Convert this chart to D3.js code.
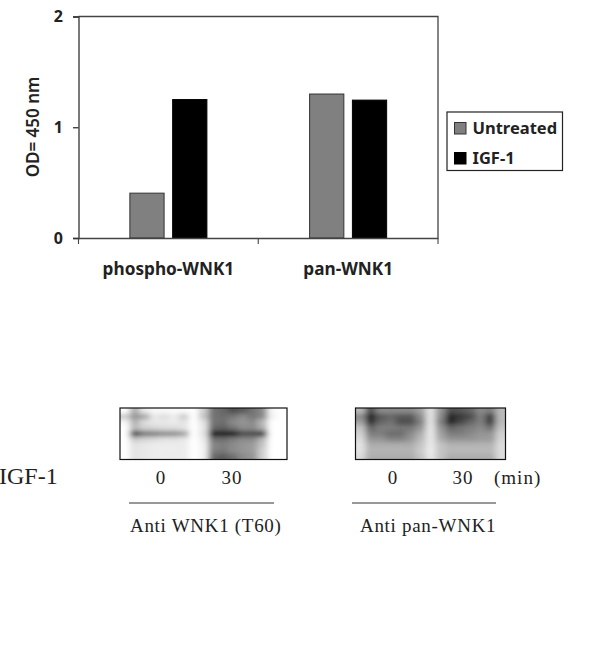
<!DOCTYPE html>
<html>
<head>
<meta charset="utf-8">
<script src="https://d3js.org/d3.v7.min.js"></script>
<style>
  html, body { margin: 0; padding: 0; background: #fff; }
  svg { display: block; }
  .chart text { font-family: "Noto Sans", sans-serif; font-weight: 700; fill: #222; }
  .blot text { font-family: "Liberation Serif", serif; fill: #222; }
</style>
</head>
<body>
<div id="my_dataviz"></div>
<script>
// chart data
const categories = ["phospho-WNK1", "pan-WNK1"];
const seriesNames = ["Untreated", "IGF-1"];
const untreated = [0.405, 1.30];
const igf1 = [1.25, 1.245];
const yTicks = [0, 1, 2];
const seriesColors = ["#808080", "#000000"];

// blot darkness, 0 = white, 100 = black (rows top to bottom)
const blotT60 = [
  [0, 35, 8, 3, 3, 2, 2, 0, 20, 60, 65, 75, 70, 60, 50, 3, 0],
  [22, 45, 38, 10, 14, 8, 22, 0, 25, 60, 62, 58, 50, 58, 50, 5, 0],
  [3, 32, 14, 10, 10, 8, 12, 0, 12, 60, 62, 50, 45, 50, 30, 0, 0],
  [0, 30, 20, 18, 15, 15, 12, 0, 10, 65, 68, 60, 50, 50, 35, 0, 0],
  [0, 80, 58, 55, 50, 48, 40, 0, 12, 100, 100, 100, 78, 78, 85, 0, 0],
  [0, 22, 18, 15, 12, 12, 10, 0, 8, 60, 62, 55, 50, 50, 30, 0, 0],
  [0, 12, 10, 8, 8, 8, 8, 0, 5, 52, 55, 50, 45, 42, 25, 0, 0],
  [0, 12, 10, 8, 8, 8, 8, 0, 5, 55, 58, 50, 45, 42, 20, 0, 0],
  [0, 12, 10, 8, 8, 8, 8, 0, 5, 65, 70, 62, 50, 45, 20, 0, 0]
];
const blotPan = [
  [30, 75, 50, 50, 50, 50, 40, 12, 45, 75, 72, 65, 50, 55, 30],
  [50, 95, 72, 65, 72, 72, 50, 12, 50, 95, 85, 78, 55, 82, 30],
  [40, 88, 65, 60, 75, 75, 55, 12, 55, 92, 78, 65, 55, 82, 30],
  [25, 65, 55, 55, 58, 58, 45, 10, 45, 65, 60, 55, 50, 60, 25],
  [20, 55, 55, 62, 62, 50, 35, 10, 40, 55, 55, 50, 45, 45, 20],
  [15, 45, 45, 52, 52, 45, 30, 10, 35, 45, 45, 45, 42, 42, 18],
  [12, 35, 35, 35, 35, 35, 25, 10, 25, 32, 32, 32, 32, 32, 15],
  [12, 32, 32, 32, 32, 32, 22, 8, 25, 30, 30, 30, 30, 30, 15],
  [15, 35, 35, 35, 35, 35, 25, 10, 25, 35, 35, 35, 35, 35, 15]
];

const svg = d3.select("#my_dataviz")
  .append("svg")
  .attr("width", 590)
  .attr("height", 649);

const defs = svg.append("defs");
defs.append("filter")
  .attr("id", "smear")
  .attr("x", "-10%").attr("y", "-30%")
  .attr("width", "120%").attr("height", "160%")
  .append("feGaussianBlur")
  .attr("stdDeviation", "3.4 2.1");

// bar chart
const chart = svg.append("g").attr("class", "chart");
const plot = {left: 78.5, right: 438, top: 16.5, bottom: 238};

const x0 = d3.scaleBand().domain(categories).range([plot.left, plot.right]);
const x1 = d3.scaleBand().domain(seriesNames)
  .range([0, x0.bandwidth()])
  .paddingInner(0.2)
  .paddingOuter(1.2);
const y = d3.scaleLinear().domain([0, 2]).range([plot.bottom, plot.top]);
const color = d3.scaleOrdinal().domain(seriesNames).range(seriesColors);

const rows = categories.map((c, i) => ({
  category: c,
  values: [
    {name: seriesNames[0], value: untreated[i]},
    {name: seriesNames[1], value: igf1[i]}
  ]
}));

chart.selectAll("g.group")
  .data(rows)
  .enter()
  .append("g")
    .attr("class", "group")
    .attr("transform", d => "translate(" + x0(d.category) + ",0)")
  .selectAll("rect")
  .data(d => d.values)
  .enter()
  .append("rect")
    .attr("x", d => x1(d.name))
    .attr("y", d => y(d.value))
    .attr("width", x1.bandwidth())
    .attr("height", d => y(0) - y(d.value))
    .attr("fill", d => color(d.name))
    .attr("stroke", d => d.name === seriesNames[0] ? "#333" : "#000")
    .attr("stroke-width", 1);

// frame, top and right side
chart.append("path")
  .attr("d", d3.line()([[plot.left, plot.top], [plot.right, plot.top], [plot.right, plot.bottom]]))
  .attr("fill", "none")
  .attr("stroke", "#444")
  .attr("stroke-width", 1.3);

const yAxis = chart.append("g")
  .attr("transform", "translate(" + plot.left + ",0)")
  .call(d3.axisLeft(y).tickValues(yTicks).tickFormat(d3.format("d")).tickSize(5.5).tickPadding(10));
yAxis.selectAll("text").style("font-size", "16px");
yAxis.selectAll("line, path").attr("stroke", "#333").attr("stroke-width", 1.3);

const xAxis = chart.append("g")
  .attr("transform", "translate(0," + plot.bottom + ")")
  .call(d3.axisBottom(x0).tickSize(0).tickPadding(25));
xAxis.selectAll("text").style("font-size", "17.2px");
xAxis.select("path").attr("stroke", "#444").attr("stroke-width", 1.3);

// the ticks sit between the groups, not under them
const boundaries = categories.map(c => x0(c)).concat(plot.right);
xAxis.selectAll("line.boundary")
  .data(boundaries)
  .enter()
  .append("line")
    .attr("class", "boundary")
    .attr("x1", d => d).attr("x2", d => d)
    .attr("y1", 0).attr("y2", 6)
    .attr("stroke", "#444")
    .attr("stroke-width", 1.1);

chart.append("text")
  .attr("transform", "translate(39,127) rotate(-90)")
  .attr("text-anchor", "middle")
  .style("font-size", "17px")
  .style("font-weight", "600")
  .text("OD= 450 nm");

// legend
const legend = chart.append("g").attr("transform", "translate(447,112)");
legend.append("rect")
  .attr("x", 0).attr("y", 0)
  .attr("width", 115.5).attr("height", 58.5)
  .attr("fill", "#fff")
  .attr("stroke", "#222")
  .attr("stroke-width", 1.2);
const legendY = d3.scalePoint().domain(seriesNames).range([16, 46]);
const legendRow = legend.selectAll("g.row")
  .data(seriesNames)
  .enter()
  .append("g")
    .attr("class", "row")
    .attr("transform", d => "translate(0," + legendY(d) + ")");
legendRow.append("rect")
  .attr("x", 7.5).attr("y", -5.5)
  .attr("width", 11.5).attr("height", 11.5)
  .attr("fill", d => color(d))
  .attr("stroke", d => d === seriesNames[0] ? "#333" : "#000");
legendRow.append("text")
  .attr("x", 25.5).attr("y", 6)
  .style("font-size", "16.5px")
  .text(d => d);

// western blots
const blots = svg.append("g").attr("class", "blot");
const shade = d3.scaleLinear().domain([0, 100]).range(["#ffffff", "#141414"]);

function drawBlot(id, matrix, left, right, top, bottom) {
  const bx = d3.scaleBand().domain(d3.range(matrix[0].length)).range([left, right]);
  const by = d3.scaleBand().domain(d3.range(matrix.length)).range([top, bottom]);
  const bleed = 8; // outer cells run past the frame so the blur doesn't fade at the edge

  defs.append("clipPath").attr("id", id)
    .append("rect")
    .attr("x", left).attr("y", top)
    .attr("width", right - left).attr("height", bottom - top);

  const holder = blots.append("g").attr("clip-path", "url(#" + id + ")");
  holder.append("rect")
    .attr("x", left).attr("y", top)
    .attr("width", right - left).attr("height", bottom - top)
    .attr("fill", "#fff");
  const cells = holder.append("g").attr("filter", "url(#smear)");
  matrix.forEach((row, r) => {
    const last = matrix.length - 1;
    const rowY = r === 0 ? by(r) - bleed : by(r);
    const rowH = by.bandwidth() + (r === 0 || r === last ? bleed : 0) + 0.5;
    cells.selectAll("rect.r" + r)
      .data(row)
      .enter()
      .append("rect")
        .attr("class", "r" + r)
        .attr("x", (d, c) => c === 0 ? bx(c) - bleed : bx(c))
        .attr("y", rowY)
        .attr("width", (d, c) => bx.bandwidth() + (c === 0 || c === row.length - 1 ? bleed : 0) + 0.5)
        .attr("height", rowH)
        .attr("fill", d => shade(d));
  });

  blots.append("rect")
    .attr("x", left).attr("y", top)
    .attr("width", right - left).attr("height", bottom - top)
    .attr("fill", "none")
    .attr("stroke", "#111")
    .attr("stroke-width", 1.2);
}

drawBlot("clipT60", blotT60, 120, 287, 408, 459.5);
drawBlot("clipPan", blotPan, 355.5, 505.5, 408, 459.5);

const timeLabels = [
  {text: "0", x: 161, anchor: "middle"},
  {text: "30", x: 232, anchor: "middle"},
  {text: "0", x: 393, anchor: "middle"},
  {text: "30", x: 463, anchor: "middle"},
  {text: "(min)", x: 494, anchor: "start"}
];
blots.selectAll("text.time")
  .data(timeLabels)
  .enter()
  .append("text")
    .attr("class", "time")
    .attr("x", d => d.x)
    .attr("y", 484)
    .attr("text-anchor", d => d.anchor)
    .style("font-size", "19px")
    .style("letter-spacing", "1px")
    .text(d => d.text);

const antibodyLabels = [
  {text: "Anti WNK1 (T60)", x: 130, lineFrom: 129, lineTo: 274},
  {text: "Anti pan-WNK1", x: 360, lineFrom: 352, lineTo: 496}
];
blots.selectAll("line.rule")
  .data(antibodyLabels)
  .enter()
  .append("line")
    .attr("class", "rule")
    .attr("x1", d => d.lineFrom).attr("x2", d => d.lineTo)
    .attr("y1", 503).attr("y2", 503)
    .attr("stroke", "#333")
    .attr("stroke-width", 1.2);
blots.selectAll("text.antibody")
  .data(antibodyLabels)
  .enter()
  .append("text")
    .attr("class", "antibody")
    .attr("x", d => d.x)
    .attr("y", 532)
    .style("font-size", "19px")
    .style("letter-spacing", "0.7px")
    .text(d => d.text);

blots.append("text")
  .attr("x", -1)
  .attr("y", 484)
  .style("font-size", "24px")
  .text("IGF-1");
</script>
</body>
</html>
